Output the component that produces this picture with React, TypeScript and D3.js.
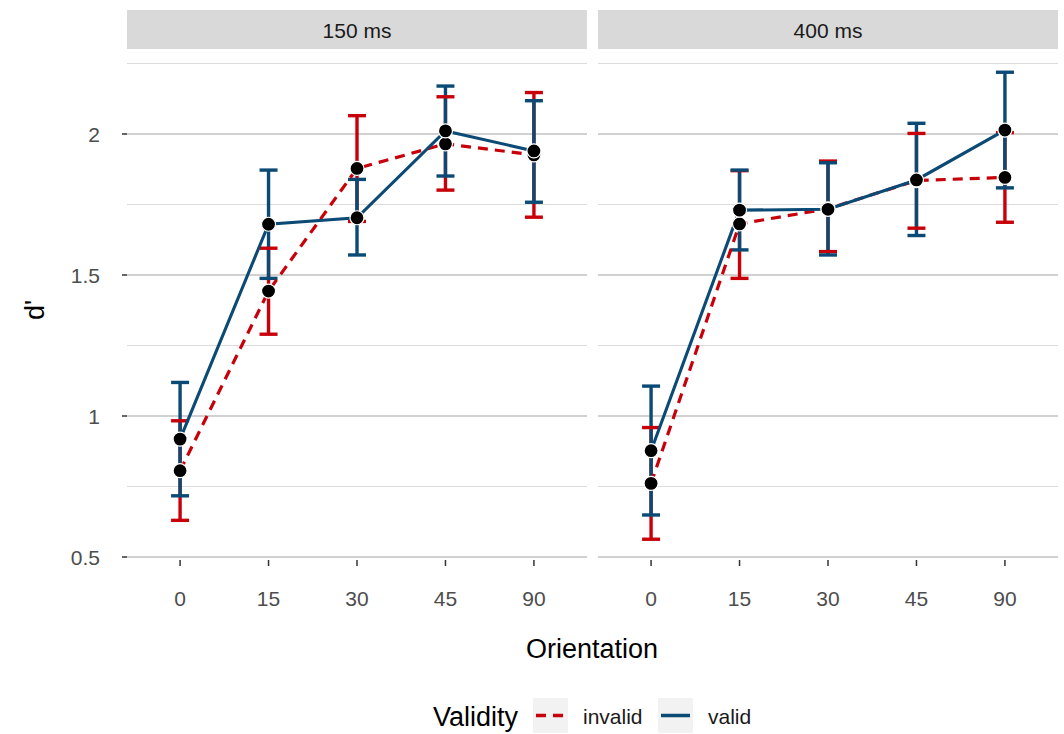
import React from "react";
import * as d3 from "d3";

// orientation levels (x) and facet labels
const orientations = ["0", "15", "30", "45", "90"];
const soaLabels = ["150 ms", "400 ms"];
const yTicks = [0.5, 1, 1.5, 2];
const yMinor = [0.75, 1.25, 1.75, 2.25];

// d' means and error bar limits, per SOA and validity
const valid150 = [0.918, 1.68, 1.703, 2.011, 1.94];
const valid150Lo = [0.717, 1.488, 1.571, 1.851, 1.758];
const valid150Hi = [1.119, 1.872, 1.839, 2.17, 2.118];
const invalid150 = [0.806, 1.443, 1.878, 1.965, 1.926];
const invalid150Lo = [0.63, 1.29, 1.69, 1.801, 1.705];
const invalid150Hi = [0.983, 1.595, 2.065, 2.132, 2.147];

const valid400 = [0.877, 1.73, 1.733, 1.837, 2.014];
const valid400Lo = [0.649, 1.589, 1.571, 1.64, 1.809];
const valid400Hi = [1.106, 1.872, 1.898, 2.038, 2.219];
const invalid400 = [0.761, 1.681, 1.735, 1.835, 1.846];
const invalid400Lo = [0.563, 1.488, 1.583, 1.666, 1.687];
const invalid400Hi = [0.959, 1.87, 1.904, 2.002, 2.005];

const panelData = [
  {
    invalid: { mean: invalid150, lo: invalid150Lo, hi: invalid150Hi },
    valid: { mean: valid150, lo: valid150Lo, hi: valid150Hi },
  },
  {
    invalid: { mean: invalid400, lo: invalid400Lo, hi: invalid400Hi },
    valid: { mean: valid400, lo: valid400Lo, hi: valid400Hi },
  },
];

const RED = "#c8000a";
const BLUE = "#0b4a75";
const font = "'Liberation Sans', Arial, Helvetica, sans-serif";

export default function App() {
  const width = 1064;
  const height = 734;
  const panels = [
    [127, 587],
    [598, 1058],
  ];
  const y = d3.scaleLinear().domain([0.5, 2.25]).range([557, 63.5]);
  const capW = 9;

  const line = (x: d3.ScalePoint<string>, vals: number[]) =>
    d3
      .line<number>()
      .x((_, i) => x(orientations[i]) as number)
      .y((d) => y(d))(vals) as string;

  const series = [
    { key: "invalid", color: RED, dash: "10 7", width: 3.2 },
    { key: "valid", color: BLUE, dash: undefined, width: 3.1 },
  ];

  return (
    <svg
      width={width}
      height={height}
      style={{ position: "absolute", left: 0, top: 0, background: "#fff" }}
      fontFamily={font}
    >
      {/* y axis */}
      {yTicks.map((t) => (
        <g key={t}>
          <text x={100} y={y(t)} dy="0.36em" textAnchor="end" fontSize={21} fill="#4d4d4d">
            {t}
          </text>
          <line x1={122} x2={127} y1={y(t)} y2={y(t)} stroke="#333" strokeWidth={1.5} />
        </g>
      ))}
      <text
        transform={`translate(34,${(63 + 557) / 2}) rotate(-90)`}
        textAnchor="middle"
        dy="0.36em"
        fontSize={27}
        fill="#000"
      >
        d'
      </text>

      {panels.map(([x0, x1], pi) => {
        const x = d3.scalePoint<string>().domain(orientations).range([x0, x1]).padding(0.6);
        const pd = panelData[pi] as any;
        return (
          <g key={pi}>
            {/* strip */}
            <rect x={x0} y={10} width={x1 - x0} height={39} fill="#d9d9d9" />
            <text x={(x0 + x1) / 2} y={30} dy="0.36em" textAnchor="middle" fontSize={21} fill="#1a1a1a">
              {soaLabels[pi]}
            </text>
            {/* grid */}
            {yMinor.map((t) => (
              <line key={"m" + t} x1={x0} x2={x1} y1={y(t)} y2={y(t)} stroke="#dcdcdc" strokeWidth={1.2} />
            ))}
            {yTicks.map((t) => (
              <line key={"M" + t} x1={x0} x2={x1} y1={y(t)} y2={y(t)} stroke="#c2c2c2" strokeWidth={1.6} />
            ))}
            {/* x axis */}
            {orientations.map((o) => (
              <g key={o}>
                <line x1={x(o)} x2={x(o)} y1={560} y2={566} stroke="#333" strokeWidth={1.5} />
                <text x={x(o)} y={598} dy="0.36em" textAnchor="middle" fontSize={21} fill="#4d4d4d">
                  {o}
                </text>
              </g>
            ))}
            {/* error bar stems */}
            {series.map((s) =>
              orientations.map((o, i) => (
                <line
                  key={s.key + "v" + o}
                  x1={x(o)}
                  x2={x(o)}
                  y1={y(pd[s.key].lo[i])}
                  y2={y(pd[s.key].hi[i])}
                  stroke={s.color}
                  strokeWidth={3.4}
                />
              ))
            )}
            {/* error bar caps */}
            {series.map((s) =>
              orientations.map((o, i) => (
                <g key={s.key + "c" + o}>
                  {[pd[s.key].lo[i], pd[s.key].hi[i]].map((v: number, k: number) => (
                    <line
                      key={k}
                      x1={(x(o) as number) - capW}
                      x2={(x(o) as number) + capW}
                      y1={y(v)}
                      y2={y(v)}
                      stroke={s.color}
                      strokeWidth={3.4}
                    />
                  ))}
                </g>
              ))
            )}
            {/* lines */}
            {series.map((s) => (
              <path
                key={s.key + "l"}
                d={line(x, pd[s.key].mean)}
                fill="none"
                stroke={s.color}
                strokeWidth={s.width}
                strokeDasharray={s.dash}
              />
            ))}
            {/* points */}
            {series.map((s) =>
              orientations.map((o, i) => (
                <circle
                  key={s.key + "p" + o}
                  cx={x(o)}
                  cy={y(pd[s.key].mean[i])}
                  r={7}
                  fill="#000"
                  stroke="#fff"
                  strokeWidth={1.2}
                />
              ))
            )}
          </g>
        );
      })}

      {/* x title */}
      <text x={592} y={648} dy="0.36em" textAnchor="middle" fontSize={27} fill="#000">
        Orientation
      </text>

      {/* legend */}
      <text x={433} y={716} dy="0.36em" fontSize={27} fill="#000">
        Validity
      </text>
      <rect x={533} y={698} width={35} height={35} fill="#f2f2f2" />
      <line x1={536} x2={565} y1={715.5} y2={715.5} stroke={RED} strokeWidth={3.5} strokeDasharray="10 7" />
      <text x={583} y={716} dy="0.36em" fontSize={21} fill="#1a1a1a">
        invalid
      </text>
      <rect x={658} y={698} width={35} height={35} fill="#f2f2f2" />
      <line x1={661} x2={690} y1={715.5} y2={715.5} stroke={BLUE} strokeWidth={3.5} />
      <text x={708} y={716} dy="0.36em" fontSize={21} fill="#1a1a1a">
        valid
      </text>
    </svg>
  );
}
